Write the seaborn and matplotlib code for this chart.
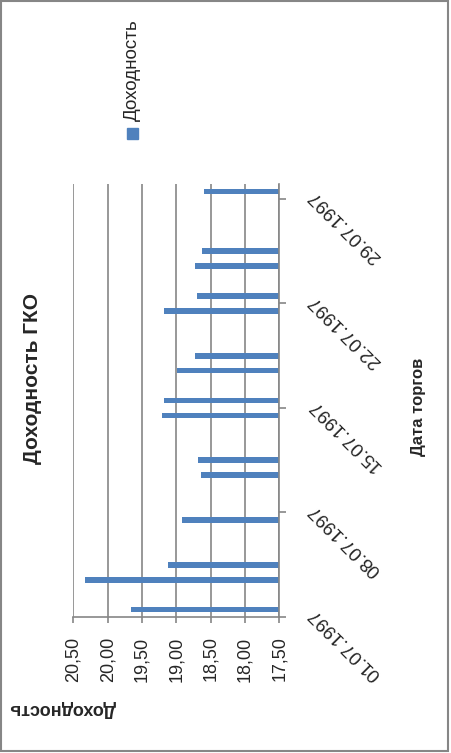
import pandas as pd
import matplotlib.pyplot as plt
import seaborn as sns
from matplotlib.patches import Rectangle

# данные: дата торгов и доходность ГКО
dates = ['01.07.1997', '03.07.1997', '04.07.1997', '07.07.1997', '10.07.1997',
         '11.07.1997', '14.07.1997', '15.07.1997', '17.07.1997', '18.07.1997',
         '21.07.1997', '22.07.1997', '24.07.1997', '25.07.1997', '29.07.1997']
yields = [19.66, 20.33, 19.12, 18.92, 18.64,
          18.68, 19.21, 19.18, 18.99, 18.73,
          19.18, 18.70, 18.73, 18.63, 18.60]
tick_dates = ['01.07.1997', '08.07.1997', '15.07.1997', '22.07.1997', '29.07.1997']
value_ticks = [17.5, 18.0, 18.5, 19.0, 19.5, 20.0, 20.5]

title = 'Доходность ГКО'
series_name = 'Доходность'
x_title = 'Дата торгов'
y_title = 'Доходность'

blue = '#4F81BD'
gray = '#868686'

sns.set_style('white')
plt.rcParams['font.family'] = ['Liberation Sans', 'DejaVu Sans']

start = pd.to_datetime(dates[0], format='%d.%m.%Y')
df = pd.DataFrame({'date': pd.to_datetime(dates, format='%d.%m.%Y'), 'yield': yields})
# дата оси: каждый день - один слот, столбец в центре слота
df['day'] = (df['date'] - start).dt.days + 0.5
tick_pos = [(pd.to_datetime(d, format='%d.%m.%Y') - start).days for d in tick_dates]

fig = plt.figure(figsize=(4.51, 7.53), dpi=100)
ax = fig.add_axes([73.3 / 451, 136 / 753, 206 / 451, 433 / 753])

# график повернут на 90 градусов: столбцы идут справа налево
sns.barplot(data=df, x='yield', y='day', orient='y', native_scale=True,
            width=0.38, color=blue, saturation=1, errorbar=None,
            linewidth=0, ax=ax)

ax.set_xlim(20.5, 17.5)
ax.set_ylim(0, 29)
ax.set_xticks(value_ticks)
ax.set_xticklabels([f'{v:.2f}'.replace('.', ',') for v in value_ticks],
                   rotation=90, fontsize=13)
ax.set_yticks(tick_pos)
ax.yaxis.tick_right()
ax.set_yticklabels(tick_dates, rotation=135, fontsize=13.5,
                   ha='right', va='top', rotation_mode='anchor')
ax.set_xlabel('')
ax.set_ylabel('')

ax.grid(axis='x', color=gray, linewidth=1.2)
ax.grid(axis='y', visible=False)
ax.set_axisbelow(True)
for side in ['top', 'left']:
    ax.spines[side].set_visible(False)
for side in ['bottom', 'right']:
    ax.spines[side].set_color(gray)
    ax.spines[side].set_linewidth(1.2)
ax.tick_params(axis='x', direction='out', length=4, width=1.2, color=gray, pad=10, bottom=True)
ax.tick_params(axis='y', direction='out', length=5, width=1.2, color=gray, pad=14, right=True, left=False)

fig.text(33 / 451, 1 - 378 / 753, title, rotation=90, fontsize=15,
         fontweight='bold', ha='center', va='center')
fig.text(418 / 451, 1 - 407 / 753, x_title, rotation=90, fontsize=12,
         fontweight='bold', ha='center', va='center')
fig.text(62 / 451, 1 - 708 / 753, y_title, rotation=180, fontsize=13,
         fontweight='bold', ha='center', va='center')

# легенда
fig.patches.append(Rectangle((127 / 451, 1 - 139 / 753), 11 / 451, 11 / 753,
                             transform=fig.transFigure, color=blue))
fig.text(132 / 451, 1 - 70 / 753, series_name, rotation=90, fontsize=13.5,
         ha='center', va='center')

# рамка диаграммы
fig.patches.append(Rectangle((1 / 451, 2.5 / 753), 447 / 451, 749.5 / 753,
                             transform=fig.transFigure, fill=False,
                             edgecolor=gray, linewidth=1.5))

fig.savefig('out.png', dpi=100)
